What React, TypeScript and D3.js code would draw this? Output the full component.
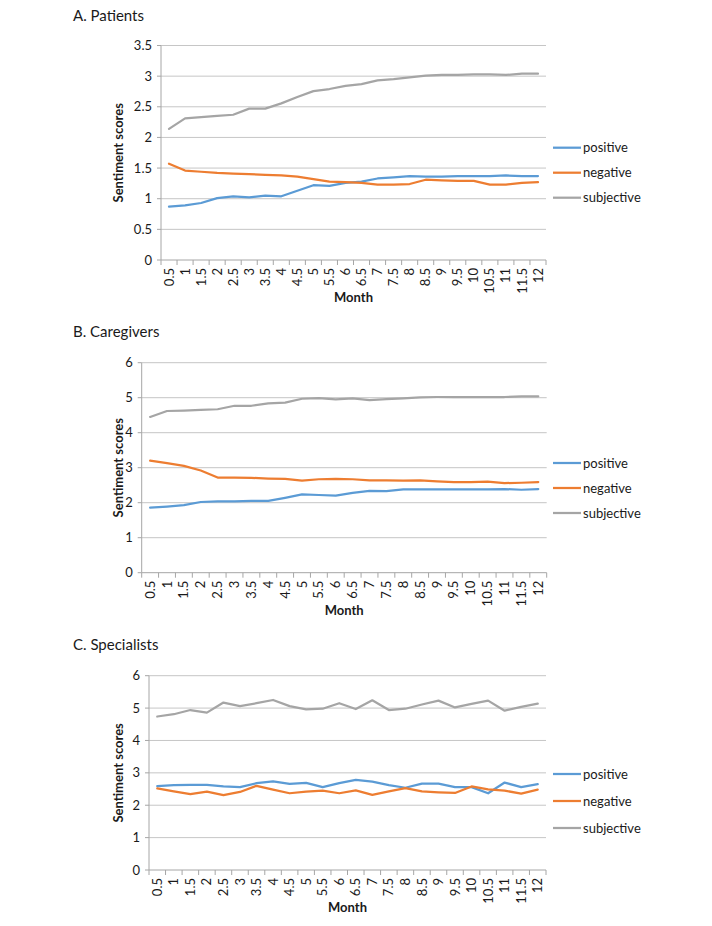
import React from "react";
import * as d3 from "d3";

const months = ["0.5","1","1.5","2","2.5","3","3.5","4","4.5","5","5.5","6","6.5","7","7.5","8","8.5","9","9.5","10","10.5","11","11.5","12"];
const seriesNames = ["positive", "negative", "subjective"];
const seriesColors = ["#5B9BD5", "#ED7D31", "#A5A5A5"];

const patientsPositive = [0.87,0.89,0.93,1.01,1.04,1.02,1.05,1.04,1.13,1.22,1.21,1.26,1.28,1.33,1.35,1.37,1.36,1.36,1.37,1.37,1.37,1.38,1.37,1.37];
const patientsNegative = [1.57,1.46,1.44,1.42,1.41,1.40,1.39,1.38,1.36,1.32,1.28,1.27,1.26,1.23,1.23,1.24,1.31,1.30,1.29,1.29,1.23,1.23,1.26,1.27];
const patientsSubjective = [2.14,2.31,2.33,2.35,2.37,2.47,2.47,2.555,2.66,2.755,2.79,2.84,2.87,2.93,2.95,2.98,3.01,3.02,3.02,3.03,3.03,3.02,3.04,3.04];

const caregiversPositive = [1.86,1.89,1.93,2.02,2.04,2.04,2.05,2.05,2.14,2.24,2.22,2.20,2.28,2.34,2.33,2.38,2.38,2.38,2.38,2.38,2.38,2.39,2.37,2.39];
const caregiversNegative = [3.20,3.13,3.05,2.92,2.72,2.72,2.71,2.69,2.68,2.63,2.67,2.68,2.67,2.64,2.64,2.63,2.64,2.61,2.59,2.59,2.60,2.56,2.57,2.59];
const caregiversSubjective = [4.45,4.62,4.63,4.65,4.67,4.77,4.77,4.84,4.86,4.97,4.99,4.95,4.98,4.93,4.96,4.98,5.01,5.02,5.02,5.02,5.02,5.02,5.04,5.04];

const specialistsPositive = [2.59,2.62,2.63,2.63,2.58,2.56,2.68,2.74,2.66,2.69,2.56,2.68,2.78,2.73,2.62,2.54,2.67,2.67,2.56,2.56,2.37,2.70,2.56,2.65];
const specialistsNegative = [2.52,2.43,2.34,2.42,2.31,2.41,2.60,2.48,2.37,2.42,2.45,2.37,2.46,2.32,2.43,2.53,2.43,2.40,2.38,2.58,2.49,2.45,2.36,2.48];
const specialistsSubjective = [4.74,4.81,4.94,4.86,5.17,5.06,5.15,5.25,5.06,4.96,4.98,5.15,4.97,5.24,4.94,4.98,5.11,5.23,5.02,5.13,5.23,4.92,5.04,5.14];

const patientsTicks = [0, 0.5, 1, 1.5, 2, 2.5, 3, 3.5];
const caregiversTicks = [0, 1, 2, 3, 4, 5, 6];
const specialistsTicks = [0, 1, 2, 3, 4, 5, 6];

const panels = [
  { title: "A. Patients", titleY: 20.5, left: 161, right: 546, top: 45.5, bottom: 260, ticks: patientsTicks, series: [patientsPositive, patientsNegative, patientsSubjective], legendY: [147.7, 172.7, 197.7] },
  { title: "B. Caregivers", titleY: 337.3, left: 141.7, right: 546.7, top: 362.7, bottom: 572.7, ticks: caregiversTicks, series: [caregiversPositive, caregiversNegative, caregiversSubjective], legendY: [463, 488, 513] },
  { title: "C. Specialists", titleY: 650.3, left: 149, right: 546, top: 675.7, bottom: 870, ticks: specialistsTicks, series: [specialistsPositive, specialistsNegative, specialistsSubjective], legendY: [774, 801, 828] },
];

const FONT = "Lato, 'Open Sans', sans-serif";
const GRID = "#C6C6C6";
const AXIS = "#A6A6A6";
const TEXT = "#1a1a1a";

function Panel({ p }: { p: typeof panels[number] }) {
  const x = d3.scaleBand<string>().domain(months).range([p.left, p.right]).padding(0);
  const y = d3.scaleLinear().domain([0, d3.max(p.ticks) as number]).range([p.bottom, p.top]);
  const cx = (m: string) => (x(m) as number) + x.bandwidth() / 2;
  const line = d3.line<number>().x((_, i) => cx(months[i])).y((v) => y(v));
  const boundaries = months.map((m) => x(m) as number).concat([p.right]);
  return (
    <g>
      <text x={73} y={p.titleY} fontFamily={FONT} fontSize={15} fill={TEXT}>{p.title}</text>
      {p.ticks.map((t) => (
        <g key={t}>
          {t > 0 && <line x1={p.left} x2={p.right} y1={y(t)} y2={y(t)} stroke={GRID} strokeWidth={1} />}
          <line x1={p.left - 4} x2={p.left} y1={y(t)} y2={y(t)} stroke={AXIS} strokeWidth={1} />
          <text x={p.left - 9} y={y(t)} dy="0.35em" textAnchor="end" fontFamily={FONT} fontSize={13} fill={TEXT}>{String(t)}</text>
        </g>
      ))}
      <line x1={p.left} x2={p.left} y1={p.top} y2={p.bottom} stroke={AXIS} strokeWidth={1} />
      <line x1={p.left} x2={p.right} y1={p.bottom} y2={p.bottom} stroke={AXIS} strokeWidth={1} />
      {boundaries.map((bx, i) => (
        <line key={i} x1={bx} x2={bx} y1={p.bottom} y2={p.bottom + 5} stroke={AXIS} strokeWidth={1} />
      ))}
      {months.map((m) => (
        <text key={m} transform={`translate(${cx(m)},${p.bottom + 8}) rotate(-90)`} dy="0.35em" textAnchor="end" fontFamily={FONT} fontSize={13} fill={TEXT}>{m}</text>
      ))}
      <text x={(p.left + p.right) / 2} y={p.bottom + 42} textAnchor="middle" fontFamily={FONT} fontSize={13} fontWeight="bold" fill={TEXT}>Month</text>
      <text transform={`translate(118,${(p.top + p.bottom) / 2}) rotate(-90)`} dy="0.35em" textAnchor="middle" fontFamily={FONT} fontSize={13} fontWeight="bold" fill={TEXT}>Sentiment scores</text>
      {p.series.map((s, i) => (
        <path key={i} d={line(s) as string} fill="none" stroke={seriesColors[i]} strokeWidth={2.25} strokeLinejoin="round" strokeLinecap="round" />
      ))}
      {seriesNames.map((n, i) => (
        <g key={n}>
          <line x1={553} x2={581} y1={p.legendY[i]} y2={p.legendY[i]} stroke={seriesColors[i]} strokeWidth={2.25} />
          <text x={583} y={p.legendY[i]} dy="0.35em" fontFamily={FONT} fontSize={13} fill={TEXT}>{n}</text>
        </g>
      ))}
    </g>
  );
}

export default function App() {
  return (
    <svg width={712} height={926} style={{ position: "absolute", left: 0, top: 0, background: "#fff" }}>
      <rect width={712} height={926} fill="#fff" />
      {panels.map((p) => <Panel key={p.title} p={p} />)}
    </svg>
  );
}
